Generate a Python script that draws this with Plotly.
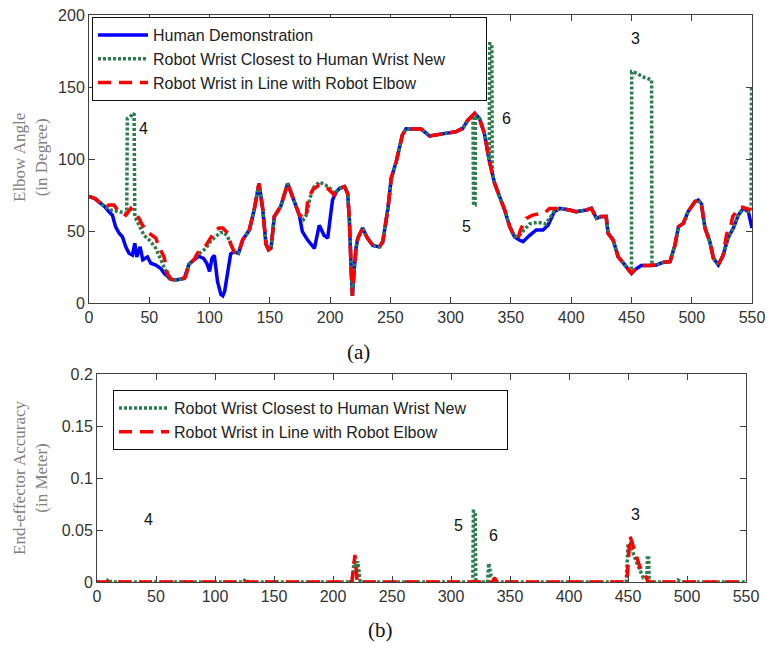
import plotly.graph_objects as go

# ---- (a) elbow angle, degrees ----
human_x = [0, 5, 10, 13, 16.6, 19.4, 22, 25, 27.7, 30.5, 33.2, 36, 38, 39.6, 42.4, 44.6, 48.5, 51.3, 55.4,
           59.6, 62.3, 65, 68, 72, 76, 79, 83, 87, 91, 95, 98, 100, 102, 104, 106.6, 109.4, 111, 112.5,
           115, 117.5, 120, 124, 127.4, 131, 133, 137, 141, 144, 146.8, 149, 151, 153.7, 159, 164.8, 170,
           174.5, 177, 181.4, 187, 191, 195, 198, 202, 205, 208, 212, 214.6, 216, 217.4, 218.5, 220, 221.5,
           223, 227, 231, 235.4, 241, 243.7, 248, 250.7, 254.8, 257.6, 260, 263, 271.4, 275.5, 282.5, 288,
           296.4, 304.7, 310, 314.3, 320, 324, 328, 332, 336.5, 340.6, 344.8, 349, 353, 357, 360, 365.6,
           371, 376.6, 380.8, 386, 390.5, 398.8, 404, 412.7, 416.8, 421, 425, 429, 430.6, 434.8, 439,
           444.5, 450, 452.8, 458, 464, 470.8, 476, 482, 486, 489, 493, 497, 502.7, 505.4, 508, 511, 515,
           518, 522, 526, 530, 534.5, 538.6, 542.8, 547, 550]
human_y = [74, 72.5, 69, 67, 63.4, 61, 53, 48.4, 46, 39, 34.5, 33.3, 41.5, 32, 39, 30, 32, 27.6, 26.4,
           24, 20.6, 18.3, 16.5, 16, 16.5, 17, 27, 30, 32.5, 31, 27, 22, 31, 33, 15, 6, 5, 8,
           23, 34, 35.5, 34.5, 43.7, 48, 50.7, 64.6, 83, 66, 41, 37, 38, 60, 67, 83, 71.5,
           61, 49.5, 43.7, 38, 54, 47, 45, 71.5, 77, 79.6, 80.8, 76, 57.6, 25, 5, 23, 38,
           45, 52, 45, 40, 39, 42.6, 65.7, 86.6, 98, 107, 116.7, 121, 120.8, 120.8, 116, 116.7,
           117.8, 119, 121.3, 127, 131.7, 128, 117.8, 99, 83, 73.8, 64.6, 53, 46, 43.7, 42.6, 47,
           50.7, 50.7, 54, 63.4, 65.7, 64.6, 63.4, 64.6, 65.7, 58.8, 60, 60, 48.4, 43.7, 32,
           26.4, 20.6, 23, 26, 26, 26.4, 28.2, 28.7, 40, 53, 55.3, 63.4, 70.4, 71.5, 69, 52, 42.6,
           31, 26.4, 33, 45, 52, 61, 65.7, 63.4, 52]

closest_x = [0, 5, 10, 13, 18, 26.3, 31.3, 31.8, 37.4, 38, 41.5, 45.7, 51.3, 55.4, 59.6, 63.7, 66.5, 68,
             72, 76, 80, 83, 87, 91, 97, 101, 105, 109, 112, 115, 118, 120.5, 124, 127.4, 131, 133, 137,
             141, 144, 146.8, 149, 151, 153.7, 159, 164.8, 170, 174.5, 178, 181, 183, 186, 191, 196,
             200, 203.6, 207.7, 212, 214.6, 216, 217.4, 218.5, 220, 221.5, 223, 227, 231, 235.4, 241,
             243.7, 248, 250.7, 254.8, 257.6, 260, 263, 271.4, 275.5, 282.5, 288, 296.4, 304.7, 310,
             314.3, 318.5, 319, 320.3, 320.6, 324, 328, 332, 332.4, 334.2, 334.5, 336.5, 340.6, 344.8,
             349, 353, 357, 360, 365.6, 372, 379, 383, 386, 390.5, 398.8, 404, 412.7, 416.8, 421, 425,
             429, 430.6, 434.8, 439, 444.5, 450, 450.2, 453, 461, 466.7, 467, 470.8, 476, 482, 486,
             489, 493, 497, 502.7, 505.4, 508, 511, 515, 518, 522, 526, 530, 534.5, 538.6, 542.8, 547,
             549.3, 549.6]
closest_y = [74, 72.5, 69, 67, 64.6, 63.4, 62.3, 128, 131.7, 60, 54, 47, 42.6, 38, 30, 23, 17, 16.5,
             16, 16.5, 18, 27, 30, 34, 38, 43, 46, 49, 49, 46, 40, 35.6, 34.5, 43.7, 48, 50.7, 64.6,
             83, 66, 41, 37, 38, 60, 67, 83, 71.5, 61, 58, 62, 72, 80, 84, 82,
             79.6, 76, 79.6, 80.8, 76, 57.6, 25, 5, 23, 38, 45, 52, 45, 40, 39,
             42.6, 65.7, 86.6, 98, 107, 116.7, 121, 120.8, 120.8, 116, 116.7, 117.8, 119, 121.3,
             127, 129.5, 68, 68, 131, 128, 117.8, 99, 180, 180, 90, 83, 73.8, 64.6,
             53, 46, 47, 50, 55, 56, 55, 60, 64, 65.7, 64.6, 63.4, 64.6, 65.7, 58.8, 60,
             60, 48.4, 43.7, 32, 26.4, 20.6, 160.6, 160, 156.5, 155, 26, 26.4, 28.2, 28.7, 40,
             53, 55.3, 63.4, 70.4, 71.5, 69, 52, 42.6, 31, 26.4, 33, 45, 52, 61, 65.7, 63.4,
             64, 150]

inline_x = [0, 5, 10, 13.8, 16.6, 20.8, 23.5, 27.7, 30.5, 34.6, 38.8, 41.5, 44.3, 50, 55.4, 58, 62.3, 65,
            68, 72, 76, 80, 83, 87, 91, 97, 101, 105, 108, 111, 115, 118, 120.5, 124, 127.4, 131, 133,
            137, 141, 144, 146.8, 149, 151, 153.7, 159, 164.8, 170, 174.5, 180, 181.4, 185.5, 191, 198,
            203.6, 207.7, 212, 214.6, 216, 217.4, 218.5, 220, 221.5, 223, 227, 231, 235.4, 241, 243.7,
            248, 250.7, 254.8, 257.6, 260, 263, 271.4, 275.5, 282.5, 288, 296.4, 304.7, 310, 314.3, 320,
            324, 328, 332, 336.5, 340.6, 344.8, 349, 353, 356, 358, 362.8, 368, 373.7, 378, 382, 386,
            390.5, 398.8, 404, 412.7, 416.8, 421, 425, 429, 430.6, 434.8, 439, 444.5, 450, 452.8, 458,
            464, 470.8, 476, 482, 486, 489, 493, 497, 502.7, 505.4, 508, 511, 515, 518, 522, 526, 529,
            532, 534, 538, 542, 546, 549]
inline_y = [74, 72.5, 69, 67, 68, 68, 64.6, 62.3, 61, 65.7, 62.3, 58.8, 54, 48.4, 45, 39, 32, 20.6,
            16.5, 16, 16.5, 18, 27, 30, 36, 40, 45, 50.7, 52, 52, 48.6, 40, 35.6, 34.5, 43.7, 48, 50.7,
            64.6, 83, 66, 41, 37, 38, 60, 67, 83, 71.5, 61, 58.8, 71.5, 78.5, 82, 79.6,
            75, 79.6, 80.8, 76, 57.6, 25, 5, 23, 38, 45, 52, 45, 40, 39, 42.6,
            65.7, 86.6, 98, 107, 116.7, 121, 120.8, 120.8, 116, 116.7, 117.8, 119, 121.3, 127, 131.7,
            128, 117.8, 99, 83, 73.8, 64.6, 53, 46, 45, 51, 58.8, 61, 62, 62.5, 65.7, 65.7,
            65.7, 64.6, 63.4, 64.6, 65.7, 58.8, 60, 60, 48.4, 43.7, 32, 26.4, 20.6, 23, 26,
            26, 26.4, 28.2, 28.7, 40, 53, 55.3, 63.4, 70.4, 71.5, 69, 52, 42.6, 31, 26.4, 33, 48,
            52, 60, 64.6, 66.5, 65.5, 64.6]

# ---- (b) end-effector accuracy, metres ----
acc_closest_x = [0, 8, 10, 12, 124, 126, 128, 216, 218, 220, 221, 223, 318.5, 319, 320.5, 321, 331, 332,
                 334, 336, 338, 448.5, 450, 451.5, 457, 463, 466, 466.5, 467.5, 468, 490, 492, 495, 550]
acc_closest_y = [0, 0, 0.003, 0, 0, 0.003, 0, 0, 0.02, 0.013, 0.02, 0, 0, 0.068, 0.068, 0, 0, 0.018,
                 0.006, 0.004, 0, 0, 0.037, 0.037, 0.0196, 0.004, 0.004, 0.023, 0.023, 0, 0, 0.002, 0, 0]
acc_inline_x = [0, 216, 218.6, 220.5, 335, 337, 339, 449, 451.7, 456, 460, 465.8, 467, 550]
acc_inline_y = [0, 0, 0.026, 0, 0, 0.004, 0, 0, 0.044, 0.028, 0.0147, 0.0035, 0, 0]

labels_a = ["4", "5", "6", "3"]
labels_a_x = [45, 313, 346, 453]
labels_a_y = [121, 53, 128, 184]
labels_b_x = [43.5, 306, 336, 456]
labels_b_y = [0.06, 0.054, 0.045, 0.065]

BLUE = "#0000ff"
GREEN = "#2e7d4f"
RED = "#ff0000"

# page body adds an 8px margin, so the figure is sized to the window minus that
PAD = 8
W, H = 775 - PAD, 646 - PAD


def px(x):
    return (x - PAD) / W


def py(y):
    return 1 - (y - PAD) / H


# the boxed legends of the original leave empty room after the longest entry
TAIL = "\u00a0" * 8

fig = go.Figure()
fig.add_trace(go.Scatter(x=human_x, y=human_y, mode="lines", name="Human Demonstration",
                         line=dict(color=BLUE, width=3.5), xaxis="x", yaxis="y", legend="legend"))
fig.add_trace(go.Scatter(x=closest_x, y=closest_y, mode="lines",
                         name="Robot Wrist Closest to Human Wrist New" + TAIL,
                         line=dict(color=GREEN, width=3.5, dash="3px,2px"),
                         xaxis="x", yaxis="y", legend="legend"))
fig.add_trace(go.Scatter(x=inline_x, y=inline_y, mode="lines", name="Robot Wrist in Line with Robot Elbow",
                         line=dict(color=RED, width=3.5, dash="13px,8px"),
                         xaxis="x", yaxis="y", legend="legend"))
fig.add_trace(go.Scatter(x=acc_closest_x, y=acc_closest_y, mode="lines",
                         name="Robot Wrist Closest to Human Wrist New" + TAIL,
                         line=dict(color=GREEN, width=3.5, dash="3px,2px"),
                         xaxis="x2", yaxis="y2", legend="legend2"))
fig.add_trace(go.Scatter(x=acc_inline_x, y=acc_inline_y, mode="lines",
                         name="Robot Wrist in Line with Robot Elbow",
                         line=dict(color=RED, width=3.5, dash="13px,8px"),
                         xaxis="x2", yaxis="y2", legend="legend2"))

axis_style = dict(showline=True, linecolor="#404040", linewidth=1, mirror="ticks", ticks="inside",
                  ticklen=6, tickcolor="#404040", showgrid=False, zeroline=False, automargin=False,
                  ticklabeloverflow="allow",
                  tickfont=dict(family="Liberation Sans", size=16, color="#333333"))

legend_style = dict(xanchor="left", yanchor="top", bgcolor="white",
                    bordercolor="#111111", borderwidth=1, itemwidth=50,
                    font=dict(family="Liberation Sans", size=16, color="#222222"),
                    tracegroupgap=0)

fig.update_layout(
    width=W, height=H,
    margin=dict(l=0, r=0, t=0, b=0, autoexpand=False),
    paper_bgcolor="white", plot_bgcolor="white",
    font=dict(family="Liberation Sans", size=15, color="#222222"),
    xaxis=dict(domain=[px(89), px(752)], range=[0, 550], dtick=50, anchor="y", **axis_style),
    yaxis=dict(domain=[py(303), py(15)], range=[0, 200], dtick=50, anchor="x", **axis_style),
    xaxis2=dict(domain=[px(97), px(746)], range=[0, 550], dtick=50, anchor="y2", **axis_style),
    yaxis2=dict(domain=[py(582), py(374)], range=[0, 0.2], dtick=0.05, anchor="x2", **axis_style),
    legend=dict(x=px(92), y=py(17), **legend_style),
    legend2=dict(x=px(113), y=py(390), **legend_style),
)

ann = []
for t, x, y in zip(labels_a, labels_a_x, labels_a_y):
    ann.append(dict(x=x, y=y, xref="x", yref="y", text=t, showarrow=False,
                    font=dict(family="Liberation Sans", size=16, color="#111111")))
for t, x, y in zip(labels_a, labels_b_x, labels_b_y):
    ann.append(dict(x=x, y=y, xref="x2", yref="y2", text=t, showarrow=False,
                    font=dict(family="Liberation Sans", size=16, color="#111111")))
ann.append(dict(x=px(30), y=py(158), xref="paper", yref="paper", text="Elbow Angle<br>(in Degree)",
                textangle=-90, showarrow=False, xanchor="center", yanchor="middle",
                font=dict(family="Liberation Serif", size=17, color="#808080")))
ann.append(dict(x=px(30), y=py(478), xref="paper", yref="paper",
                text="End-effector Accuracy<br>(in Meter)", textangle=-90, showarrow=False,
                xanchor="center", yanchor="middle",
                font=dict(family="Liberation Serif", size=17, color="#808080")))
ann.append(dict(x=px(358), y=py(352), xref="paper", yref="paper", text="(a)", showarrow=False,
                xanchor="center", yanchor="middle",
                font=dict(family="Liberation Serif", size=21, color="#111111")))
ann.append(dict(x=px(380), y=py(630), xref="paper", yref="paper", text="(b)", showarrow=False,
                xanchor="center", yanchor="middle",
                font=dict(family="Liberation Serif", size=21, color="#111111")))
fig.update_layout(annotations=ann)

fig.write_html("out.html")
